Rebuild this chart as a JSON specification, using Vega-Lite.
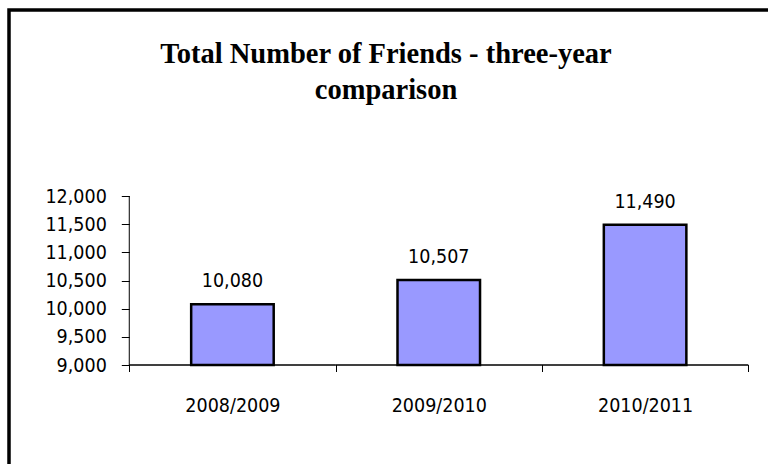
{
  "$schema": "https://vega.github.io/schema/vega-lite/v6.json",
  "autosize": {"type": "none"},
  "padding": {"left": 9, "top": 10, "right": 0, "bottom": 0},
  "width": 759,
  "height": 454,
  "background": "white",
  "title": {
    "text": ["Total Number of Friends - three-year", "comparison"],
    "anchor": "middle",
    "frame": "group",
    "font": "Liberation Serif",
    "fontSize": 28.5,
    "fontWeight": "bold",
    "color": "black",
    "lineHeight": 36.6,
    "baseline": "top",
    "offset": -95,
    "dx": -2.5
  },
  "config": {
    "view": {"stroke": "black", "strokeWidth": 3.5, "strokeDash": [759, 1213, 454]},
    "font": "DejaVu Sans Condensed"
  },
  "data": {
    "values": [
      {"period": "2008/2009", "friends": 10080},
      {"period": "2009/2010", "friends": 10507},
      {"period": "2010/2011", "friends": 11490}
    ]
  },
  "encoding": {
    "x": {
      "field": "period",
      "type": "nominal",
      "sort": null,
      "scale": {"paddingInner": 0, "paddingOuter": 0.3393, "align": 0.859},
      "axis": {
        "orient": "bottom",
        "offset": -99.5,
        "domain": false,
        "tickBand": "extent",
        "tickSize": 7,
        "tickColor": "black",
        "tickWidth": 1,
        "labelAngle": 0,
        "labelFont": "DejaVu Sans Condensed",
        "labelFontSize": 19.5,
        "labelColor": "black",
        "labelPadding": 24.8,
        "title": null
      }
    }
  },
  "layer": [
    {
      "mark": {"type": "bar", "width": {"band": 0.4}, "fill": "#9999FF", "stroke": "black", "strokeWidth": 2.5},
      "encoding": {
        "y": {
          "field": "friends",
          "type": "quantitative",
          "scale": {"domain": [7242.6, 15301.8], "nice": false, "zero": false},
          "axis": {
            "offset": -120.3,
            "domain": false,
            "grid": false,
            "values": [9000, 9500, 10000, 10500, 11000, 11500, 12000],
            "format": ",.0f",
            "tickSize": 8,
            "tickColor": "black",
            "tickWidth": 1,
            "labelFont": "DejaVu Sans Condensed",
            "labelFontSize": 19.5,
            "labelColor": "black",
            "labelPadding": 15,
            "title": null
          }
        },
        "y2": {"datum": 9000}
      }
    },
    {
      "mark": {"type": "text", "baseline": "alphabetic", "dy": -17, "fontSize": 19.5, "font": "DejaVu Sans Condensed", "color": "black"},
      "encoding": {
        "y": {"field": "friends", "type": "quantitative"},
        "text": {"field": "friends", "type": "quantitative", "format": ",.0f"}
      }
    },
    {
      "mark": {"type": "bar", "width": {"band": 1}, "fill": "transparent", "stroke": "black", "strokeWidth": 1},
      "encoding": {
        "y": {"datum": 9000, "type": "quantitative"},
        "y2": {"datum": 9000}
      }
    },
    {
      "transform": [{"filter": "datum.period === '2008/2009'"}],
      "mark": {"type": "rule", "stroke": "black", "strokeWidth": 1},
      "encoding": {
        "x": {"field": "period", "type": "nominal", "bandPosition": 0},
        "y": {"datum": 9000, "type": "quantitative"},
        "y2": {"datum": 12000}
      }
    }
  ]
}
